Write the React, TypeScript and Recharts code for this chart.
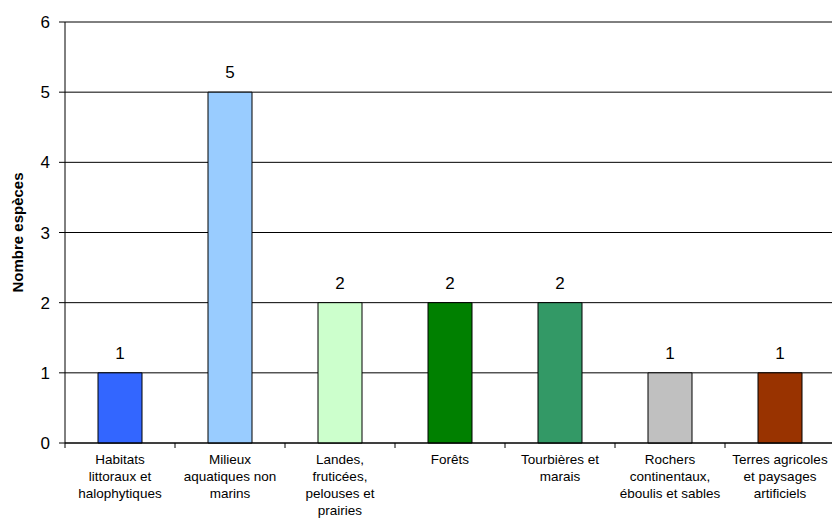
import React from 'react';
import { BarChart, Bar, XAxis, YAxis, CartesianGrid, LabelList, Cell } from 'recharts';

const categories: string[][] = [
    ['Habitats', 'littoraux et', 'halophytiques'],
    ['Milieux', 'aquatiques non', 'marins'],
    ['Landes,', 'fruticées,', 'pelouses et', 'prairies'],
    ['Forêts'],
    ['Tourbières et', 'marais'],
    ['Rochers', 'continentaux,', 'éboulis et sables'],
    ['Terres agricoles', 'et paysages', 'artificiels'],
];
const especes = [1, 5, 2, 2, 2, 1, 1];
const colors = ['#3366FF', '#99CCFF', '#CCFFCC', '#008000', '#339966', '#C0C0C0', '#993300'];
const yTicks = [0, 1, 2, 3, 4, 5, 6];

const data = categories.map((lines, i) => ({ name: i, value: especes[i] }));

const FONT = 'Arial, "Liberation Sans", sans-serif';

// category label split on several lines, plus a tick mark on the band's left edge
// (y arrives already shifted by tickSize + tickMargin = 8)
const CategoryTick = (props: any) => {
    const { x, y, payload } = props;
    const lines = categories[payload.value] || [];
    const axisY = y - 8;
    return (
        <g>
            <line x1={x - 55} y1={axisY} x2={x - 55} y2={axisY + 5} stroke="#000" />
            <text x={x} y={axisY + 21} textAnchor="middle" fontSize={13.5} fontFamily={FONT} fill="#000">
                {lines.map((l, i) => (
                    <tspan key={i} x={x} dy={i === 0 ? 0 : 17}>{l}</tspan>
                ))}
            </text>
        </g>
    );
};

const App: React.FC = () => {
    return (
        <div style={{ position: 'absolute', left: 0, top: 0, width: 832, height: 519, overflow: 'hidden', background: '#fff' }}>
            <BarChart
                width={836}
                height={519}
                data={data}
                margin={{ top: 22, right: 1, bottom: 0, left: 0 }}
                barCategoryGap="30%"
            >
                <CartesianGrid vertical={false} stroke="#000" />
                <XAxis
                    dataKey="name"
                    height={76}
                    interval={0}
                    axisLine={{ stroke: '#000' }}
                    tickLine={false}
                    tick={<CategoryTick />}
                />
                <YAxis
                    width={65}
                    domain={[0, 6]}
                    ticks={yTicks}
                    interval={0}
                    axisLine={{ stroke: '#000' }}
                    tickLine={{ stroke: '#000' }}
                    tickSize={6}
                    tickMargin={9}
                    tick={{ fontSize: 17, fill: '#000', fontFamily: FONT }}
                    label={{
                        value: 'Nombre espèces',
                        angle: -90,
                        position: 'insideLeft',
                        dx: 13,
                        style: { fontSize: 15, fontWeight: 'bold', fill: '#000', fontFamily: FONT, textAnchor: 'middle' },
                    }}
                />
                <Bar dataKey="value" stroke="#000" strokeWidth={1} isAnimationActive={false}>
                    {data.map((entry, index) => (
                        <Cell key={`cell-${index}`} fill={colors[index]} />
                    ))}
                    <LabelList dataKey="value" position="top" offset={14} style={{ fontSize: 17, fill: '#000', fontFamily: FONT }} />
                </Bar>
            </BarChart>
        </div>
    );
};

export default App;
